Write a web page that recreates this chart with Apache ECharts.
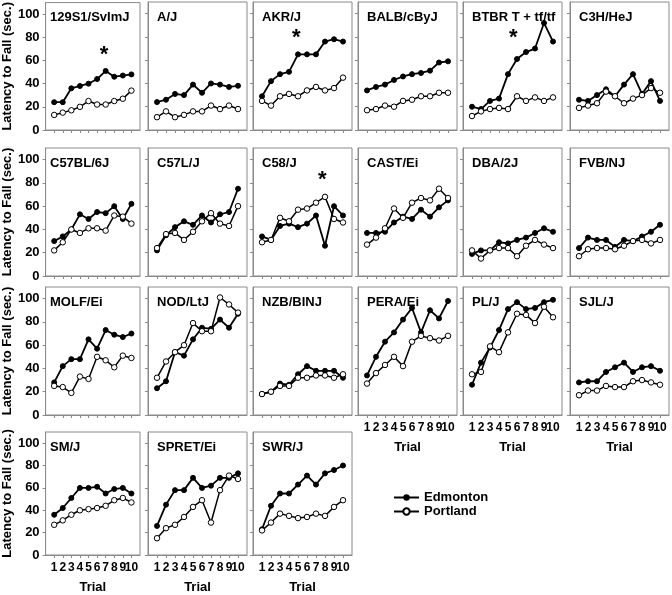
<!DOCTYPE html>
<html>
<head>
<meta charset="utf-8">
<script src="https://cdn.jsdelivr.net/npm/echarts@6/dist/echarts.min.js"></script>
<style>
  html, body { margin: 0; padding: 0; background: #fff; }
  #chart { width: 672px; height: 595px; }
</style>
</head>
<body>
<div id="chart"></div>
<script>
const strains = [
  "129S1/SvImJ", "A/J", "AKR/J", "BALB/cByJ", "BTBR T + tf/tf", "C3H/HeJ",
  "C57BL/6J", "C57L/J", "C58/J", "CAST/Ei", "DBA/2J", "FVB/NJ",
  "MOLF/Ei", "NOD/LtJ", "NZB/BINJ", "PERA/Ei", "PL/J", "SJL/J",
  "SM/J", "SPRET/Ei", "SWR/J"
];
const trials = [1, 2, 3, 4, 5, 6, 7, 8, 9, 10];
const yTicks = [0, 20, 40, 60, 80, 100];

const edmonton = [
  [24, 24, 36, 38, 40, 44, 51, 46, 47, 48],
  [24, 26, 31, 30, 39, 32, 40, 39, 37, 38],
  [29, 42, 48, 50, 65, 65, 65, 76, 78, 76],
  [34, 37, 39, 43, 46, 48, 49, 51, 58, 59],
  [20, 18, 25, 27, 48, 61, 67, 70, 92, 76],
  [26, 25, 30, 35, 29, 39, 48, 31, 42, 25],
  [30, 34, 40, 53, 49, 55, 54, 60, 49, 62],
  [22, 35, 42, 47, 44, 52, 46, 53, 55, 75],
  [34, 31, 43, 45, 42, 45, 52, 26, 60, 52],
  [37, 37, 38, 46, 51, 49, 57, 51, 59, 65],
  [19, 22, 22, 29, 28, 31, 33, 37, 41, 38],
  [24, 33, 31, 31, 25, 31, 30, 34, 38, 44],
  [28, 42, 48, 48, 65, 57, 73, 69, 67, 70],
  [23, 29, 54, 51, 65, 75, 74, 82, 75, 87],
  [18, 20, 27, 26, 35, 42, 38, 38, 38, 32],
  [34, 50, 63, 71, 82, 92, 71, 90, 83, 98],
  [26, 45, 58, 73, 91, 97, 91, 92, 97, 99],
  [28, 29, 29, 37, 41, 45, 37, 41, 42, 38],
  [36, 42, 51, 60, 60, 61, 55, 59, 60, 55],
  [26, 45, 58, 58, 69, 60, 62, 69, 69, 73],
  [23, 44, 55, 55, 63, 71, 63, 73, 76, 80]
];

const portland = [
  [13, 15, 17, 20, 25, 22, 22, 25, 27, 34],
  [11, 16, 11, 13, 16, 16, 21, 18, 21, 18],
  [25, 21, 29, 31, 29, 34, 37, 34, 36, 45],
  [17, 18, 21, 20, 25, 26, 29, 29, 32, 32],
  [12, 16, 18, 19, 18, 29, 25, 28, 25, 28],
  [19, 21, 23, 33, 29, 23, 27, 30, 36, 32],
  [22, 29, 40, 37, 41, 41, 39, 52, 51, 45],
  [24, 36, 37, 31, 38, 47, 54, 45, 43, 60],
  [29, 31, 50, 47, 57, 58, 63, 68, 49, 46],
  [27, 33, 41, 58, 50, 63, 67, 65, 75, 67],
  [22, 15, 22, 24, 24, 17, 26, 31, 27, 24],
  [17, 23, 24, 24, 23, 26, 30, 31, 28, 31],
  [25, 24, 19, 33, 31, 50, 47, 41, 51, 49],
  [32, 46, 54, 60, 79, 72, 72, 101, 95, 88],
  [18, 20, 25, 25, 32, 32, 34, 34, 32, 35],
  [27, 36, 43, 50, 42, 63, 68, 66, 64, 68],
  [35, 37, 59, 54, 71, 87, 86, 79, 93, 84],
  [17, 21, 21, 25, 24, 24, 29, 30, 28, 26],
  [27, 31, 36, 40, 41, 42, 44, 49, 51, 47],
  [15, 24, 27, 34, 43, 49, 29, 58, 71, 68],
  [22, 29, 37, 35, 33, 34, 37, 35, 43, 49]
];

// significance marks: [panel index, trial position, value position]
const asterisks = [
  [0, 6.8, 69],
  [2, 4.8, 83],
  [4, 5.6, 83],
  [8, 7.7, 87]
];

const colLeft = [41, 148, 253, 358, 463, 570];
const rowTop = [2, 148, 287, 432];
const panelW = 99;
const panelH = 128;
const xMax = 11;
const font = "Liberation Sans";
const boxColor = "#8a8a8a";

const chart = echarts.init(document.getElementById("chart"));

const grid = [], xAxis = [], yAxis = [], series = [], title = [];

strains.forEach((name, i) => {
  const col = i % 6;
  const row = Math.floor(i / 6);
  const firstCol = col === 0;
  const bottom = i >= 15;

  grid.push({
    left: colLeft[col], top: rowTop[row], width: panelW, height: panelH,
    show: true, borderColor: boxColor, borderWidth: 1, backgroundColor: "#fff"
  });

  title.push({
    text: name,
    left: colLeft[col] + 4, top: rowTop[row] + 4,
    textStyle: { fontFamily: font, fontSize: 13, fontWeight: "bold", color: "#000" }
  });

  xAxis.push({
    gridIndex: i, type: "value", min: 0, max: xMax,
    splitLine: { show: false },
    axisLine: { lineStyle: { color: boxColor } },
    axisTick: { show: true, length: 3, customValues: trials, lineStyle: { color: boxColor } },
    axisLabel: {
      show: bottom,
      // blank label at the axis end keeps "9" and "10" both visible
      customValues: trials.concat([xMax]),
      formatter: v => (v > 10 ? "" : String(v)),
      margin: 7, hideOverlap: false,
      fontFamily: font, fontSize: 12, fontWeight: "bold", color: "#000"
    },
    name: bottom ? "Trial" : "",
    nameLocation: "middle", nameGap: 26,
    nameTextStyle: { fontFamily: font, fontSize: 13, fontWeight: "bold", color: "#000" }
  });

  yAxis.push({
    gridIndex: i, type: "value", min: 0, max: 110,
    splitLine: { show: false },
    axisLine: { show: true, lineStyle: { color: boxColor } },
    axisTick: { show: true, length: 3, customValues: yTicks, lineStyle: { color: boxColor } },
    axisLabel: {
      show: firstCol, customValues: yTicks, margin: 6,
      fontFamily: font, fontSize: 13, fontWeight: "bold", color: "#000"
    },
    name: firstCol ? "Latency to Fall (sec.)" : "",
    nameLocation: "middle", nameGap: 19, nameRotate: 90,
    nameTextStyle: { fontFamily: font, fontSize: 13, fontWeight: "bold", color: "#000" }
  });

  const marks = asterisks.filter(a => a[0] === i).map(a => ({ coord: [a[1], a[2]] }));

  series.push({
    name: "Edmonton", type: "line", xAxisIndex: i, yAxisIndex: i,
    data: edmonton[i].map((v, k) => [trials[k], v]),
    symbol: "circle", symbolSize: 5,
    lineStyle: { color: "#000", width: 1.8 },
    itemStyle: { color: "#000", borderColor: "#000" },
    animation: false,
    markPoint: marks.length ? {
      symbol: "circle", symbolSize: 0,
      label: { show: true, formatter: "*", fontFamily: font, fontSize: 22, fontWeight: "bold", color: "#000", position: "inside", offset: [0, 5] },
      data: marks
    } : undefined
  });

  series.push({
    name: "Portland", type: "line", xAxisIndex: i, yAxisIndex: i,
    data: portland[i].map((v, k) => [trials[k], v]),
    symbol: "circle", symbolSize: 5.5, showSymbol: true,
    lineStyle: { color: "#000", width: 1.5 },
    itemStyle: { color: "#fff", borderColor: "#000", borderWidth: 1 },
    animation: false
  });
});

chart.setOption({
  backgroundColor: "#fff",
  animation: false,
  title: title,
  grid: grid,
  xAxis: xAxis,
  yAxis: yAxis,
  series: series,
  legend: {
    orient: "vertical", left: 388, top: 486,
    itemWidth: 25, itemHeight: 8, itemGap: 1,
    data: ["Edmonton", "Portland"],
    textStyle: { fontFamily: font, fontSize: 13, fontWeight: "bold", color: "#000" }
  }
});
</script>
</body>
</html>
